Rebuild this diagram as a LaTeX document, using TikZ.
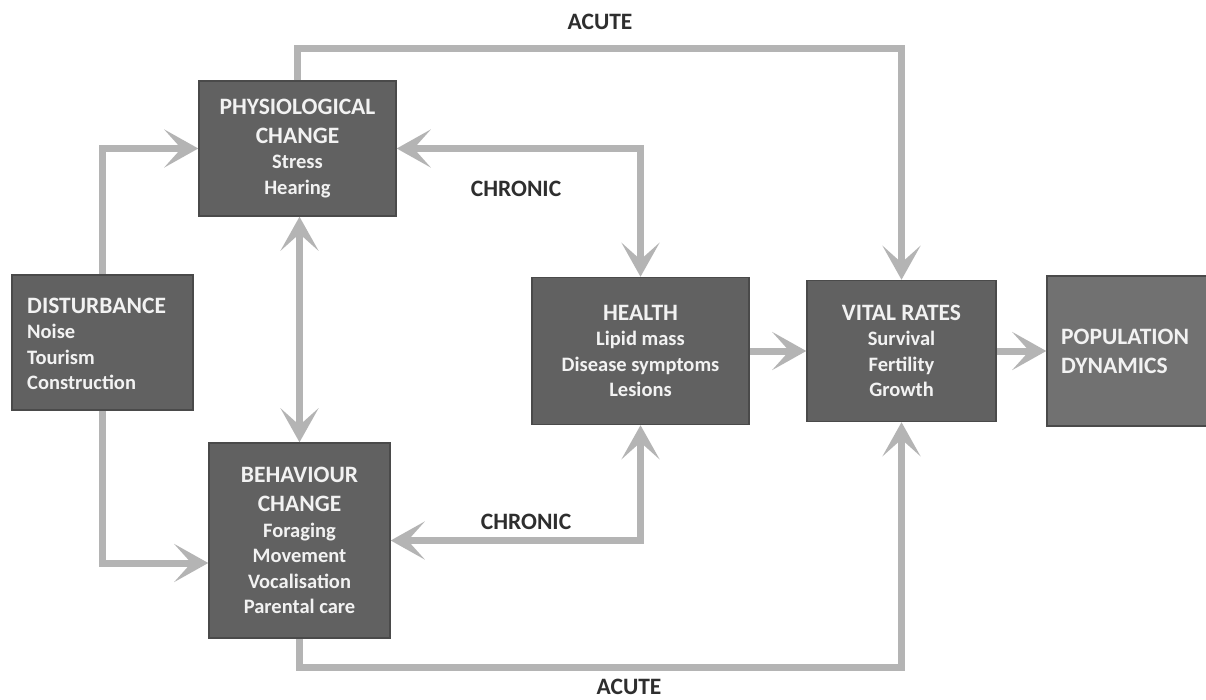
\documentclass[tikz,border=0pt]{standalone}
\usepackage{fontspec}
\setmainfont{Carlito}
\usetikzlibrary{arrows.meta,calc}
\definecolor{boxfill}{HTML}{616161}
\definecolor{popfill}{HTML}{717171}
\definecolor{boxline}{HTML}{4A4A4A}
\definecolor{arrowgray}{HTML}{B4B4B4}
\definecolor{boxtext}{HTML}{F2F2F2}
\definecolor{labeltext}{HTML}{2E2E2E}
\newcommand{\ttl}[1]{{\fontsize{23.5}{25.5}\selectfont #1}}
\tikzset{
  boxfont/.style={font=\fontsize{20.5}{25.5}\selectfont\bfseries},
  box/.style={draw=boxline, line width=1.5pt, fill=boxfill, text=boxtext,
    inner sep=0pt, align=center, boxfont},
  boxtxt/.style={inner sep=0pt, align=left, text=boxtext, boxfont},
  conn/.style={draw=arrowgray, line width=7pt,
    -{Stealth[length=34pt,width=38pt,inset=17pt]}},
  conn2/.style={draw=arrowgray, line width=7pt,
    {Stealth[length=34pt,width=38pt,inset=17pt]}-{Stealth[length=34pt,width=38pt,inset=17pt]}},
  plain/.style={draw=arrowgray, line width=7pt},
  lbl/.style={text=labeltext, font=\fontsize{23.5}{28}\selectfont\bfseries, inner sep=0pt}
}
\begin{document}
\begin{tikzpicture}[x=1pt,y=-1pt]
\clip (0,0) rectangle (1206,700);
\fill[white] (0,0) rectangle (1206,700);

% boxes
\node[box, minimum width=181pt, minimum height=135pt] (dist) at (102.5,342.5) {};
\node[boxtxt, anchor=west] (disttext) at (27,344)
  {\ttl{DISTURBANCE}\\Noise\\Tourism\\Construction};

\node[box, minimum width=197pt, minimum height=135pt] (phys) at (297.5,148.5)
  {\ttl{PHYSIOLOGICAL}\\[3.5pt]\ttl{CHANGE}\\Stress\\Hearing};

\node[box, minimum width=181pt, minimum height=195pt] (beh) at (299.5,540.5)
  {\ttl{BEHAVIOUR}\\[3.5pt]\ttl{CHANGE}\\Foraging\\Movement\\Vocalisation\\Parental care};

\node[box, minimum width=217pt, minimum height=147pt] (health) at (640.5,351)
  {\ttl{HEALTH}\\Lipid mass\\Disease symptoms\\Lesions};

\node[box, minimum width=189pt, minimum height=141pt] (vital) at (901.5,351)
  {\ttl{VITAL RATES}\\Survival\\Fertility\\Growth};

\node[box, fill=popfill, minimum width=170pt, minimum height=150pt] (pop) at (1132,351) {};
\node[boxtxt, anchor=west] (poptext) at (1061,351)
  {\ttl{POPULATION}\\[3.5pt]\ttl{DYNAMICS}};

% helper coordinates
\coordinate (topc) at (600,49);
\coordinate (botc) at (600,667);

% connectors
\draw[conn] (dist.north) |- (phys.west);
\draw[conn] (dist.south) |- ([yshift=-22.5pt]beh.west);
\draw[conn2] (beh.north |- phys.south) -- (beh.north);
\draw[conn2] (phys.east) -| (health.north);
\draw[conn2] (beh.east) -| (health.south);
\draw[plain] (phys.north) |- (topc);
\draw[conn] (topc) -| (vital.north);
\draw[plain] (beh.south) |- (botc);
\draw[conn] (botc) -| (vital.south);
\draw[conn] (health.east) -- (vital.west);
\draw[conn] (vital.east) -- (pop.west);

% labels
\node[lbl] (acutetop) at (600,22) {ACUTE};
\node[lbl] (acutebot) at (629,687) {ACUTE};
\node[lbl] (chronictop) at (516,189) {CHRONIC};
\node[lbl] (chronicbot) at (526,522) {CHRONIC};
\end{tikzpicture}
\end{document}
